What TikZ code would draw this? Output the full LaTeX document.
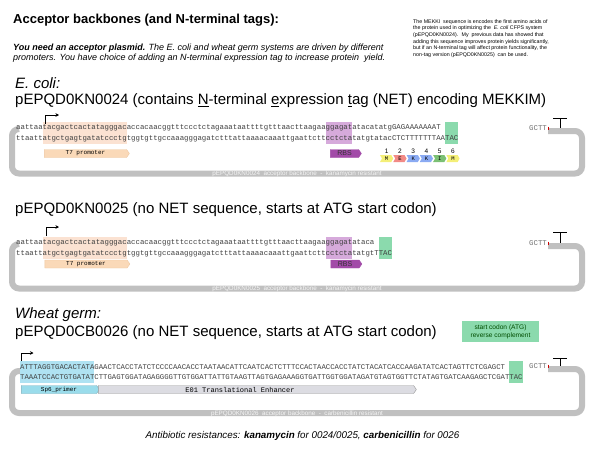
\documentclass[tikz,border=0pt]{standalone}
\usepackage{fontspec}
\setmainfont{Liberation Sans}
\setmonofont{Liberation Mono}
\usetikzlibrary{arrows.meta, positioning, calc, shapes.symbols}
\definecolor{loopgray}{HTML}{C0C0C0}
\definecolor{peach}{HTML}{FBE2D2}
\definecolor{peachfeat}{HTML}{FAD9B8}
\definecolor{rbshi}{HTML}{D6AADB}
\definecolor{rbsfeat}{HTML}{A24BA8}
\definecolor{atggreen}{HTML}{8BDAAD}
\definecolor{sphi}{HTML}{AFE2F2}
\definecolor{spfeat}{HTML}{9ADCEB}
\definecolor{enhfeat}{HTML}{DCDCE2}
\definecolor{aaM}{HTML}{F4EF78}
\definecolor{aaE}{HTML}{F28A86}
\definecolor{aaK}{HTML}{8AAAF2}
\definecolor{aaI}{HTML}{7BC074}
\newcommand{\cw}{4.422}
\newcommand{\cwB}{4.37}

\begin{document}
\begin{tikzpicture}[x=1pt, y=-1pt,
  seq/.style={inner sep=0, anchor=west, text=black!75,
              font=\fontsize{7.37}{8}\selectfont\ttfamily},
  seqB/.style={seq, font=\fontsize{7.28}{8}\selectfont\ttfamily},
  feat/.style={signal, signal to=east, signal pointer angle=110, draw,
               inner sep=0, minimum height=8,
               font=\fontsize{6}{7}\selectfont\ttfamily},
  aa/.style={signal, signal from=west, signal to=east, signal pointer angle=120,
             inner sep=0, minimum height=7, minimum width=13.27,
             font=\fontsize{5.5}{6}\selectfont\ttfamily},
  num/.style={font=\fontsize{6.5}{7}\selectfont, inner sep=0, label distance=1.5pt},
  backbone/.style={draw=loopgray, line width=6pt, rounded corners=7pt},
  bblabel/.style={text=white!96!black, font=\fontsize{6.3}{7}\selectfont, inner sep=0},
  heading/.style={anchor=west, inner sep=0, font=\fontsize{15}{18}\selectfont},
  promo/.style={-{Stealth[length=3.5pt, width=3.5pt]}, line width=0.9pt},
  term/.style={line width=1pt},
]
\useasboundingbox (0,0) rectangle (600,450);

% header
\node[anchor=west, inner sep=0, font=\bfseries\fontsize{13}{15}\selectfont] (title) at (13,20)
  {Acceptor backbones (and N-terminal tags):};
\node[anchor=west, inner sep=0, align=left, font=\itshape\fontsize{9}{10.4}\selectfont] (intro) at (13,53)
  {\textbf{You need an acceptor plasmid.} The E. coli and wheat germ systems are driven by different\\
   promoters. You have choice of adding an N-terminal expression tag to increase protein \ yield.};
\node[anchor=west, inner sep=0, align=left, font=\fontsize{5.3}{6.6}\selectfont] (note) at (413,38.5)
  {The MEKKI \ sequence is encodes the first amino acids of\\
   the protein used in optimizing the \ \textit{E. coli} CFPS system\\
   (pEPQD0KN0024). \ My \ previous data has showed that\\
   adding this sequence improves protein yields significantly,\\
   but if an N-terminal tag will affect protein functionality, the\\
   non-tag version (pEPQD0KN0025) \ can be used.};

% E. coli, with NET
\node[heading, font=\itshape\fontsize{15}{18}\selectfont] (ecoli) at (15,83) {E. coli:};
\node[heading] (h24) at (15,101)
  {pEPQD0KN0024 (contains \underline{N}-terminal \underline{e}xpression \underline{t}ag (NET) encoding MEKKIM)};
\draw[backbone] (19,129) -- (12,129) -- (12,173.5) -- (582,173.5) -- (582,131) -- (548,131);
\node[bblabel] (bb24) at (297,174) {pEPQD0KN0024 \ acceptor backbone \ - \ kanamycin resistant};
\fill[peach] ({16+6*\cw},121.5) rectangle ({16+25*\cw},144);
\fill[rbshi] ({16+70*\cw},121.5) rectangle ({16+76*\cw},144);
\fill[atggreen] ({16+97*\cw},121.5) rectangle ({16+100*\cw},144);
\node[seq] (top24) at (16,128)
  {aattaatacgactcactatagggacaccacaacggtttccctctagaaataattttgtttaacttaagaaggagatatacatatgGAGAAAAAAAT};
\node[seq] (bot24) at (16,138.5)
  {ttaattatgctgagtgatatccctgtggtgttgccaaagggagatctttattaaaacaaattgaattcttcctctatatgtatacCTCTTTTTTTAATAC};
\coordinate (tss24) at (45,124);
\draw[promo] (tss24) |- ++(14,-9);
\node[seq, text=black!55] (end24) at (529,128) {GCTT};
\draw[red!80!black, line width=0.7pt] ($(end24.east)+(1,-1.5)$) -- ++(0,3);
\draw[term] (553,118) -- (567,118) (560,118) -- (560,128);
\node[feat, fill=peachfeat, draw=peachfeat!80!brown, minimum width=85] (t7a) at (85.5,153.5) {T7 promoter};
\node[feat, fill=rbsfeat, draw=rbsfeat, minimum width=31,
      font=\fontsize{7}{8}\selectfont, text=black!80] (rbsa) at (344.5,153.5) {RBS};
\node[aa, fill=aaM, label={[num]above:1}] (aa1) at (386.6,158.5) {M};
\node[aa, fill=aaE, label={[num]above:2}] (aa2) at (399.9,158.5) {E};
\node[aa, fill=aaK, label={[num]above:3}] (aa3) at (413.2,158.5) {K};
\node[aa, fill=aaK, label={[num]above:4}] (aa4) at (426.4,158.5) {K};
\node[aa, fill=aaI, label={[num]above:5}] (aa5) at (439.7,158.5) {I};
\node[aa, fill=aaM, label={[num]above:6}] (aa6) at (453.0,158.5) {M};

% E. coli, no NET
\node[heading] (h25) at (15,210)
  {pEPQD0KN0025 (no NET sequence, starts at ATG start codon)};
\draw[backbone] (19,244) -- (12,244) -- (12,288.5) -- (582,288.5) -- (582,246) -- (548,246);
\node[bblabel] (bb25) at (297,289) {pEPQD0KN0025 \ acceptor backbone \ - \ kanamycin resistant};
\fill[peach] ({16+6*\cw},236.5) rectangle ({16+25*\cw},259);
\fill[rbshi] ({16+70*\cw},236.5) rectangle ({16+76*\cw},259);
\fill[atggreen] ({16+82*\cw},236.5) rectangle ({16+85*\cw},259);
\node[seq] (top25) at (16,243)
  {aattaatacgactcactatagggacaccacaacggtttccctctagaaataattttgtttaacttaagaaggagatataca};
\node[seq] (bot25) at (16,253.5)
  {ttaattatgctgagtgatatccctgtggtgttgccaaagggagatctttattaaaacaaattgaattcttcctctatatgtTTAC};
\coordinate (tss25) at (46,236);
\draw[promo] (tss25) |- ++(13,-9);
\node[seq, text=black!55] (end25) at (529,243) {GCTT};
\draw[red!80!black, line width=0.7pt] ($(end25.east)+(1,-1.5)$) -- ++(0,3);
\draw[term] (553,232) -- (567,232) (560,232) -- (560,243);
\node[feat, fill=peachfeat, draw=peachfeat!80!brown, minimum width=85] (t7b) at (86,264) {T7 promoter};
\node[feat, fill=rbsfeat, draw=rbsfeat, minimum width=31,
      font=\fontsize{7}{8}\selectfont, text=black!80] (rbsb) at (345,264) {RBS};

% wheat germ
\node[heading, font=\itshape\fontsize{15}{18}\selectfont] (wg) at (15,315) {Wheat germ:};
\node[heading] (h26) at (15,333)
  {pEPQD0CB0026 (no NET sequence, starts at ATG start codon)};
\node[fill=atggreen, text=green!30!black, align=center, inner sep=0,
      minimum width=77, minimum height=21, font=\fontsize{6.6}{8}\selectfont] (legend) at (500.5,331.5)
  {start codon (ATG)\\reverse complement};
\draw[backbone] (21,371) -- (12,371) -- (12,413) -- (582,413) -- (582,369) -- (548,369);
\node[bblabel] (bb26) at (297,413.5) {pEPQD0KN0026 \ acceptor backbone \ - \ carbenicillin resistant};
\fill[sphi] (20,360.5) rectangle ({20+17*\cwB},383);
\fill[atggreen] ({20+112*\cwB},360.5) rectangle ({20+115*\cwB},383);
\node[seqB] (top26) at (20,367)
  {ATTTAGGTGACACTATAGAACTCACCTATCTCCCCAACACCTAATAACATTCAATCACTCTTTCCACTAACCACCTATCTACATCACCAAGATATCACTAGTTCTCGAGCT};
\node[seqB] (bot26) at (20,377.5)
  {TAAATCCACTGTGATATCTTGAGTGGATAGAGGGGTTGTGGATTATTGTAAGTTAGTGAGAAAGGTGATTGGTGGATAGATGTAGTGGTTCTATAGTGATCAAGAGCTCGATTAC};
\coordinate (tss26) at (21.5,361);
\draw[promo] (tss26) |- ++(12,-8);
\node[seq, text=black!55] (end26) at (529,366) {GCTT};
\draw[red!80!black, line width=0.7pt] ($(end26.east)+(1,-1.5)$) -- ++(0,3);
\draw[term] (553,358) -- (567,358) (560,358) -- (560,366);
\node[feat, fill=spfeat, draw=spfeat!80!black, minimum width=78] (sp6) at (59,389.5) {Sp6\_primer};
\node[feat, fill=enhfeat, draw=black!40, minimum width=318] (e01) at (256,389.5) {};
\node[inner sep=0, font=\fontsize{7}{8}\selectfont\ttfamily] (e01lbl) at (240,389.5) {E01 Translational Enhancer};

% footer
\node[inner sep=0, font=\itshape\fontsize{9.8}{11}\selectfont] (abx) at (302.5,436)
  {Antibiotic resistances: \textbf{kanamycin} for 0024/0025, \textbf{carbenicillin} for 0026};
\end{tikzpicture}
\end{document}
